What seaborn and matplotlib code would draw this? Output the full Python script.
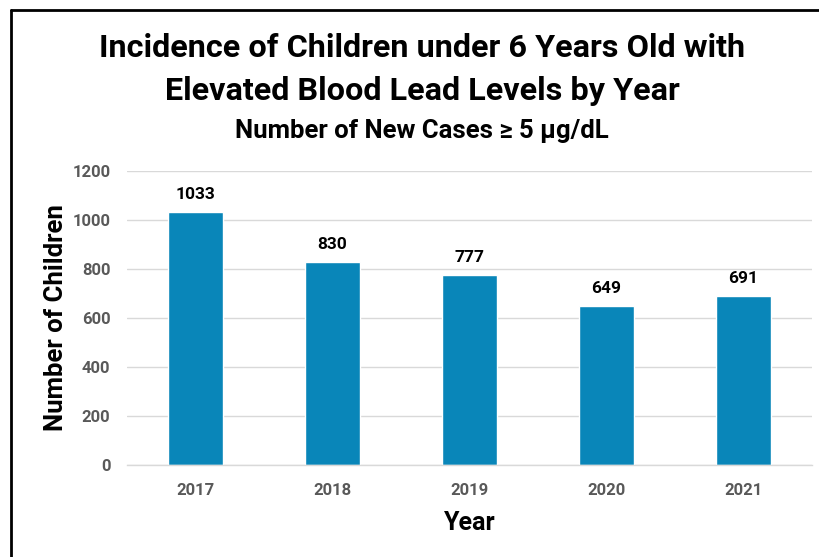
import numpy as np
import pandas as pd
import matplotlib
matplotlib.use('Agg')
import matplotlib.pyplot as plt
import seaborn as sns
from matplotlib.lines import Line2D

# data
years = ['2017', '2018', '2019', '2020', '2021']
cases = [1033, 830, 777, 649, 691]
y_ticks = [0, 200, 400, 600, 800, 1000, 1200]

df = pd.DataFrame({'Year': years, 'Cases': cases})

sns.set_style('white')
plt.rcParams['font.family'] = ['Roboto', 'DejaVu Sans']
plt.rcParams['text.color'] = 'black'
plt.rcParams['axes.labelcolor'] = 'black'

fig = plt.figure(figsize=(8.2, 5.57), dpi=100)
ax = fig.add_axes([0.1549, 0.1652, 0.8353, 0.5278])

sns.barplot(data=df, x='Year', y='Cases', color='#0986B9', width=0.4,
            saturation=1, ax=ax)

ax.set_ylim(0, 1200)
ax.set_xlim(-0.5, len(years) - 0.5)
ax.set_yticks(y_ticks)
ax.set_yticklabels([str(t) for t in y_ticks], fontsize=12, fontweight='bold', color='#595959')
ax.set_xticks(range(len(years)))
ax.set_xticklabels(years, fontsize=12, fontweight='bold', color='#595959')
ax.tick_params(axis='y', length=0, pad=12)
ax.tick_params(axis='x', which='major', length=0, pad=13)
ax.set_xticks(np.arange(-0.5, len(years), 1), minor=True)
ax.tick_params(axis='x', which='minor', length=5, color='#D9D9D9', width=1)

ax.grid(axis='y', color='#D9D9D9', linewidth=1)
ax.set_axisbelow(True)
for s in ['top', 'right', 'left']:
    ax.spines[s].set_visible(False)
ax.spines['bottom'].set_color('#D9D9D9')
ax.spines['bottom'].set_linewidth(1)

for i, v in enumerate(cases):
    ax.annotate(str(v), (i, v), xytext=(0, 7), textcoords='offset points',
                ha='center', va='bottom', fontsize=12.5, fontweight='bold', color='black')

ax.set_xlabel('Year', fontsize=18, fontweight='bold', labelpad=9)
ax.set_ylabel('Number of Children', fontsize=18.5, fontweight='bold', labelpad=3)

fig.text(0.515, 0.914, 'Incidence of Children under 6 Years Old with',
         ha='center', va='center', fontsize=23.3, fontweight='bold')
fig.text(0.515, 0.837, 'Elevated Blood Lead Levels by Year',
         ha='center', va='center', fontsize=23.3, fontweight='bold')
fig.text(0.515, 0.765, 'Number of New Cases \u2265 5 \u03bcg/dL',
         ha='center', va='center', fontsize=18.5, fontweight='bold')

# frame lines on the left and top
fig.add_artist(Line2D([11 / 820, 11 / 820], [0, 1 - 10 / 557], color='black', linewidth=2))
fig.add_artist(Line2D([11 / 820, 1], [1 - 10 / 557, 1 - 10 / 557], color='black', linewidth=2))

fig.savefig('out.png', dpi=100)
